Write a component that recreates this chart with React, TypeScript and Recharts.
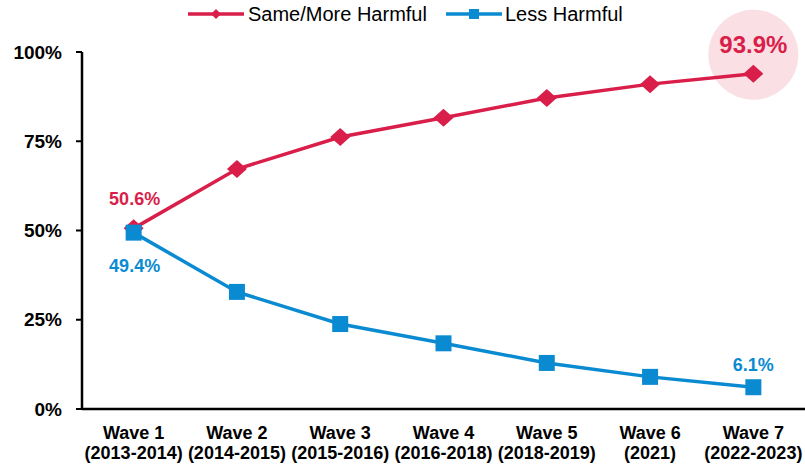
import React from 'react';
import { LineChart, Line, XAxis, YAxis, Legend, LabelList } from 'recharts';

// Survey waves and their fieldwork periods
const waves = ['Wave 1', 'Wave 2', 'Wave 3', 'Wave 4', 'Wave 5', 'Wave 6', 'Wave 7'];
const periods = ['(2013-2014)', '(2014-2015)', '(2015-2016)', '(2016-2018)', '(2018-2019)', '(2021)', '(2022-2023)'];

// Share of respondents per perception (percent)
const sameOrMoreHarmful = [50.6, 67.2, 76.2, 81.6, 87.1, 91.0, 93.9];
const lessHarmful = [49.4, 32.8, 23.8, 18.4, 12.9, 9.0, 6.1];

const yTicks = [0, 25, 50, 75, 100];

const RED = '#D91E4A';
const BLUE = '#0A8BD1';
const FONT = '"Liberation Sans", Arial, Helvetica, sans-serif';

const data = waves.map((w, i) => ({
  wave: w,
  period: periods[i],
  more: sameOrMoreHarmful[i],
  less: lessHarmful[i],
}));

const lastIndex = data.length - 1;

const DiamondDot = (props: any) => {
  const { cx, cy, index } = props;
  if (cx == null || cy == null) return null;
  const hw = 10;
  const hh = 9;
  return (
    <g key={`d-${index}`}>
      {index === lastIndex && (
        <circle cx={cx} cy={cy - 19} r={45} fill={RED} fillOpacity={0.14} />
      )}
      <polygon
        points={`${cx},${cy - hh} ${cx + hw},${cy} ${cx},${cy + hh} ${cx - hw},${cy}`}
        fill={RED}
      />
    </g>
  );
};

const SquareDot = (props: any) => {
  const { cx, cy, index } = props;
  if (cx == null || cy == null) return null;
  const s = 16;
  return <rect key={`s-${index}`} x={cx - s / 2} y={cy - s / 2} width={s} height={s} fill={BLUE} />;
};

const moreLabel = (props: any) => {
  const { x, y, value, index } = props;
  if (index === 0) {
    return (
      <text x={x + 1} y={y - 23} textAnchor="middle" fill={RED} fontFamily={FONT} fontWeight="bold" fontSize={18}>
        {`${value.toFixed(1)}%`}
      </text>
    );
  }
  if (index === lastIndex) {
    return (
      <text x={x} y={y - 21} textAnchor="middle" fill={RED} fontFamily={FONT} fontWeight="bold" fontSize={24}>
        {`${value.toFixed(1)}%`}
      </text>
    );
  }
  return null;
};

const lessLabel = (props: any) => {
  const { x, y, value, index } = props;
  if (index === 0) {
    return (
      <text x={x + 1} y={y + 39} textAnchor="middle" fill={BLUE} fontFamily={FONT} fontWeight="bold" fontSize={18}>
        {`${value.toFixed(1)}%`}
      </text>
    );
  }
  if (index === lastIndex) {
    return (
      <text x={x} y={y - 16} textAnchor="middle" fill={BLUE} fontFamily={FONT} fontWeight="bold" fontSize={18}>
        {`${value.toFixed(1)}%`}
      </text>
    );
  }
  return null;
};

const WaveTick = (props: any) => {
  const { x, y, payload, index } = props;
  return (
    <text x={x} y={y} textAnchor="middle" fill="#000" fontFamily={FONT} fontWeight="bold" fontSize={18}>
      <tspan x={x} dy={22}>{payload.value}</tspan>
      <tspan x={x} dy={20}>{periods[index]}</tspan>
    </text>
  );
};

const LegendContent = () => (
  <div
    style={{
      height: 28,
      display: 'flex',
      alignItems: 'center',
      paddingLeft: 188,
      fontFamily: FONT,
      fontSize: 20,
      color: '#000',
    }}
  >
    <svg width={56} height={14} style={{ marginRight: 4 }}>
      <line x1={0} y1={7} x2={56} y2={7} stroke={RED} strokeWidth={3.5} />
      <polygon points="28,2 33,7 28,12 23,7" fill={RED} />
    </svg>
    <span style={{ marginRight: 19 }}>Same/More Harmful</span>
    <svg width={56} height={14} style={{ marginRight: 3 }}>
      <line x1={0} y1={7} x2={56} y2={7} stroke={BLUE} strokeWidth={3.5} />
      <rect x={23} y={2} width={10} height={10} fill={BLUE} />
    </svg>
    <span>Less Harmful</span>
  </div>
);

export default function App() {
  return (
    <div style={{ position: 'absolute', left: 0, top: 0, background: '#fff' }}>
      <LineChart width={805} height={465} data={data} margin={{ top: 24, right: 0, bottom: 0, left: 0 }}>
        <Legend
          verticalAlign="top"
          align="left"
          content={<LegendContent />}
          wrapperStyle={{ top: 0, left: 0, width: 805, height: 28 }}
        />
        <XAxis
          dataKey="wave"
          scale="band"
          height={56}
          axisLine={{ stroke: '#000', strokeWidth: 2.5 }}
          tickLine={false}
          interval={0}
          tick={<WaveTick />}
        />
        <YAxis
          width={82}
          domain={[0, 100]}
          ticks={yTicks}
          tickFormatter={(v: number) => `${v}%`}
          axisLine={{ stroke: '#000', strokeWidth: 2.5 }}
          tickLine={{ stroke: '#000', strokeWidth: 2 }}
          tickSize={6}
          tickMargin={14}
          tick={{ fill: '#000', fontFamily: FONT, fontWeight: 'bold', fontSize: 19 }}
        />
        <Line
          dataKey="more"
          name="Same/More Harmful"
          stroke={RED}
          strokeWidth={3.5}
          dot={<DiamondDot />}
          activeDot={false}
          isAnimationActive={false}
        >
          <LabelList dataKey="more" content={moreLabel} />
        </Line>
        <Line
          dataKey="less"
          name="Less Harmful"
          stroke={BLUE}
          strokeWidth={3.5}
          dot={<SquareDot />}
          activeDot={false}
          isAnimationActive={false}
        >
          <LabelList dataKey="less" content={lessLabel} />
        </Line>
      </LineChart>
    </div>
  );
}
